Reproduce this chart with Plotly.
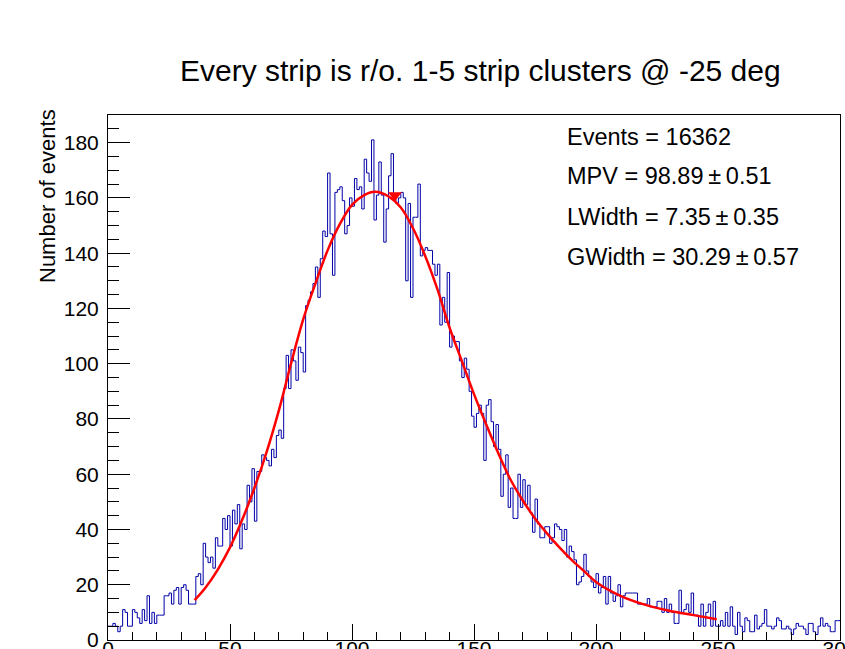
import plotly.graph_objects as go

# ---- data ----
# histogram: 300 bins of width 1 spanning 0..300
bin_low = 0
bin_width = 1
counts = [
    5, 5, 6, 5, 3, 5, 11, 10, 5, 5,
    11, 10, 8, 6, 11, 7, 16, 6, 10, 6,
    9, 9, 9, 16, 16, 17, 13, 18, 19, 13,
    19, 20, 18, 13, 13, 13, 23, 24, 20, 35,
    30, 28, 30, 26, 37, 34, 34, 44, 40, 45,
    34, 47, 42, 49, 33, 42, 40, 56, 50, 62,
    43, 61, 61, 67, 66, 65, 63, 69, 66, 74,
    76, 73, 91, 103, 91, 105, 101, 94, 106, 104,
    97, 121, 123, 126, 129, 135, 124, 138, 148, 146,
    169, 147, 132, 162, 163, 164, 159, 147, 150, 160,
    157, 167, 163, 164, 156, 174, 169, 166, 181, 152,
    161, 173, 161, 144, 156, 168, 176, 160, 158, 160,
    162, 160, 130, 158, 124, 153, 153, 165, 139, 141,
    142, 141, 141, 136, 132, 136, 114, 124, 115, 133,
    106, 110, 108, 108, 101, 95, 102, 98, 90, 81,
    77, 82, 85, 82, 65, 85, 87, 79, 70, 78,
    69, 52, 60, 67, 48, 55, 44, 44, 60, 48,
    58, 49, 56, 46, 39, 51, 42, 37, 37, 41,
    41, 35, 37, 42, 41, 40, 36, 40, 30, 34,
    32, 29, 20, 21, 23, 31, 25, 23, 21, 19,
    24, 17, 19, 23, 13, 23, 17, 14, 16, 20,
    12, 16, 17, 17, 17, 17, 17, 13, 13, 13,
    13, 15, 12, 12, 12, 14, 14, 10, 15, 10,
    13, 10, 6, 6, 18, 10, 11, 13, 10, 17,
    9, 9, 5, 13, 5, 10, 13, 5, 14, 5,
    5, 7, 5, 10, 5, 12, 5, 2, 10, 5,
    3, 8, 7, 3, 3, 9, 4, 5, 6, 11,
    5, 5, 4, 5, 8, 7, 4, 4, 5, 4,
    2, 4, 6, 5, 5, 4, 2, 6, 6, 3,
    2, 5, 8, 5, 6, 5, 3, 3, 7, 7,
]
assert len(counts) == 300

# fitted Landau x Gauss curve
fit_x = [35.5, 40, 45, 50, 55, 60, 65, 70, 75, 80, 85, 90, 95, 100, 105,
         109.5, 115, 120, 125, 130, 135, 140, 145, 150, 155, 160, 165, 170,
         175, 180, 185, 190, 195, 200, 210, 220, 230, 240, 249.5]
fit_y = [14.4, 19, 25.5, 33.5, 43.5, 55, 68, 83, 100, 116, 129, 141, 150.5,
         157.5, 161, 162.2, 160.5, 156.5, 149, 139, 127, 113, 101, 89, 78,
         67.5, 58, 50.5, 44, 38.5, 33.5, 29, 25, 21, 16, 12.8, 10.6, 9.0, 7.5]

# red marker at the top of the fit
marker_x = [117.6]
marker_y = [161.0]

title_text = "Every strip is r/o. 1-5 strip clusters @ -25 deg"
y_title = "Number of events"
stats_lines = [
    "Events = 16362",
    "MPV = 98.89\u2009\u00b1\u20090.51",
    "LWidth = 7.35\u2009\u00b1\u20090.35",
    "GWidth = 30.29\u2009\u00b1\u20090.57",
]

x_range = [0, 300]
y_range = [0, 190]
x_ticks = [0, 50, 100, 150, 200, 250, 300]
y_ticks = [0, 20, 40, 60, 80, 100, 120, 140, 160, 180]

# ---- build the figure ----
n = len(counts)
edges = [bin_low + i * bin_width for i in range(n + 1)]
step_y = counts + [counts[-1]]

FONT = "Liberation Sans, Arial, Helvetica, sans-serif"

fig = go.Figure()
fig.add_trace(go.Scatter(
    x=edges, y=step_y, mode="lines",
    line=dict(shape="hv", color="#0000a8", width=1),
    hoverinfo="skip", showlegend=False,
))
fig.add_trace(go.Scatter(
    x=fit_x, y=fit_y, mode="lines",
    line=dict(shape="spline", smoothing=1.0, color="#ff0000", width=2.5),
    hoverinfo="skip", showlegend=False,
))
fig.add_trace(go.Scatter(
    x=marker_x, y=marker_y, mode="markers",
    marker=dict(symbol="triangle-down", size=12, color="#ff0000",
                line=dict(width=0)),
    hoverinfo="skip", showlegend=False,
))

L, R, T, B = 108, 5, 115, 9
W, H = 845, 649
pw = W - L - R
ph = H - T - B


def px_to_paper_x(px):
    return (px - L) / pw


def px_to_paper_y(py):
    return (H - B - py) / ph


annotations = [
    dict(text=title_text, xref="paper", yref="paper",
         x=px_to_paper_x(481), y=px_to_paper_y(70),
         xanchor="center", yanchor="middle", showarrow=False,
         font=dict(family=FONT, size=30, color="black")),
    dict(text=y_title, xref="paper", yref="paper",
         x=px_to_paper_x(47), y=px_to_paper_y(196),
         xanchor="center", yanchor="middle", showarrow=False,
         textangle=-90,
         font=dict(family=FONT, size=22, color="black")),
]
stat_y = [136.5, 176.5, 216.5, 257]
for line, yy in zip(stats_lines, stat_y):
    annotations.append(dict(
        text=line, xref="paper", yref="paper",
        x=px_to_paper_x(565), y=px_to_paper_y(yy),
        xanchor="left", yanchor="middle", showarrow=False,
        font=dict(family=FONT, size=23.5, color="black")))

fig.update_layout(
    width=W, height=H,
    margin=dict(l=L, r=R, t=T, b=B, pad=0, autoexpand=False),
    paper_bgcolor="white", plot_bgcolor="white",
    font=dict(family=FONT, color="black"),
    showlegend=False,
    annotations=annotations,
    xaxis=dict(
        range=x_range, tickvals=x_ticks, ticks="inside", ticklen=16,
        tickwidth=1, tickcolor="black", showline=True, mirror=True,
        linecolor="black", linewidth=1, showgrid=False, zeroline=False,
        tickfont=dict(family=FONT, size=21, color="black"),
        ticklabeloverflow="allow", ticklabelstandoff=-10,
        minor=dict(dtick=10, ticks="inside", ticklen=8, tickwidth=1,
                   tickcolor="black", showgrid=False),
        automargin=False, fixedrange=True,
    ),
    yaxis=dict(
        range=y_range, tickvals=y_ticks, ticks="inside", ticklen=22,
        tickwidth=1, tickcolor="black", showline=True, mirror=True,
        linecolor="black", linewidth=1, showgrid=False, zeroline=False,
        tickfont=dict(family=FONT, size=21, color="black"),
        ticklabelstandoff=4, ticklabeloverflow="allow",
        minor=dict(dtick=5, ticks="inside", ticklen=11, tickwidth=1,
                   tickcolor="black", showgrid=False),
        automargin=False, fixedrange=True,
    ),
)

fig.write_html("out.html", config={"displayModeBar": False})
